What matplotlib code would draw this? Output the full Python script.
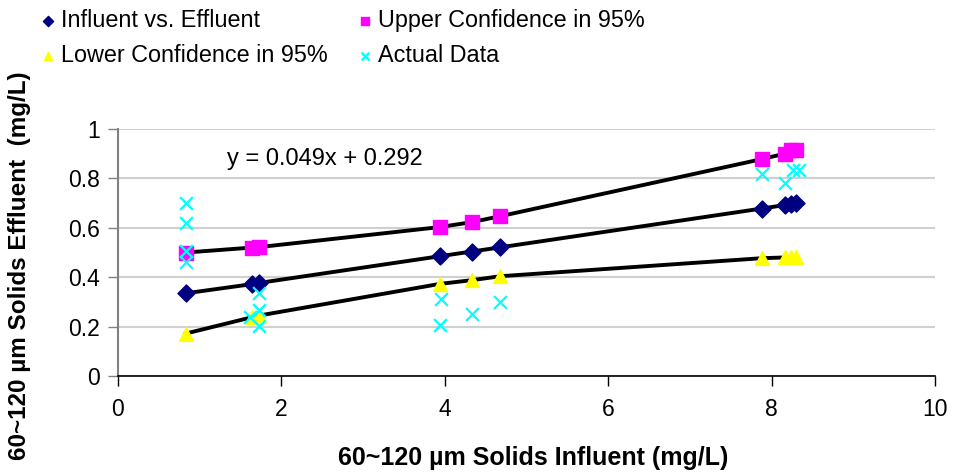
import matplotlib
matplotlib.use("Agg")
import matplotlib.pyplot as plt
import numpy as np

plt.rcParams['font.family'] = ['Liberation Sans', 'DejaVu Sans']

# Regression points (influent vs fitted effluent)
influent = [0.83, 1.64, 1.73, 3.94, 4.33, 4.68, 7.88, 8.16, 8.24, 8.30]
fitted = [0.335, 0.372, 0.377, 0.485, 0.504, 0.521, 0.678, 0.692, 0.696, 0.699]
upper = [0.500, 0.520, 0.522, 0.603, 0.623, 0.647, 0.878, 0.900, 0.913, 0.917]
lower = [0.172, 0.238, 0.245, 0.373, 0.388, 0.404, 0.477, 0.480, 0.480, 0.480]

# Actual measured data
actual_x = [0.83, 0.83, 0.83, 0.83, 1.62, 1.73, 1.73, 1.73,
            3.95, 3.94, 4.33, 4.68, 7.88, 8.16, 8.26, 8.33]
actual_y = [0.702, 0.621, 0.506, 0.463, 0.240, 0.337, 0.267, 0.202,
            0.313, 0.205, 0.251, 0.300, 0.817, 0.780, 0.834, 0.834]

equation = "y = 0.049x + 0.292"

fig = plt.figure(figsize=(9.56, 4.76), dpi=100)
ax = fig.add_axes([0.1234, 0.210, 0.8546, 0.519])

ax.set_xlim(0, 10)
ax.set_ylim(0, 1)
ax.set_xticks([0, 2, 4, 6, 8, 10])
ax.set_yticks([0, 0.2, 0.4, 0.6, 0.8, 1.0])
ax.set_yticklabels(['0', '0.2', '0.4', '0.6', '0.8', '1'])
ax.yaxis.grid(True, color='#d0d0d0', linewidth=1.5)
ax.set_axisbelow(True)

for s in ['top', 'right']:
    ax.spines[s].set_visible(False)
ax.spines['left'].set_color('#808080')
ax.spines['left'].set_linewidth(1.5)
ax.spines['bottom'].set_color('black')
ax.spines['bottom'].set_linewidth(1.2)
ax.tick_params(axis='y', direction='out', length=7, width=1, color='#808080',
               labelsize=16.5, pad=6)
ax.tick_params(axis='x', direction='out', length=7, width=1, color='black',
               labelsize=16.5, pad=9)

# Lines
ax.plot(influent, upper, color='black', linewidth=2.8, zorder=2)
ax.plot(influent, fitted, color='black', linewidth=2.8, zorder=2)
ax.plot(influent, lower, color='black', linewidth=2.8, zorder=2)

# Markers
h1 = ax.scatter(influent, fitted, marker='D', s=75, color='#000080', zorder=3,
                label='Influent vs. Effluent')
h2 = ax.scatter(influent, upper, marker='s', s=90, color='#ff00ff', zorder=3,
                label='Upper Confidence in 95%')
h3 = ax.scatter(influent, lower, marker='^', s=100, color='#ffff00', zorder=3,
                label='Lower Confidence in 95%')
h4 = ax.scatter(actual_x, actual_y, marker='x', s=85, color='#00ffff',
                linewidths=1.6, zorder=4, label='Actual Data')

ax.text(1.33, 0.88, equation, fontsize=17, va='center', ha='left')

ax.set_xlabel('60~120 µm Solids Influent (mg/L)', fontsize=18,
              fontweight='bold')
ax.set_ylabel('60~120 µm Solids Effluent  (mg/L)', fontsize=17.5,
              fontweight='bold')
ax.xaxis.set_label_coords(0.508, -0.332)
ax.xaxis.label.set_va('center')
ax.yaxis.set_label_coords(-0.12, 0.445)
ax.yaxis.label.set_va('center')

leg = fig.legend(handles=[h1, h3, h2, h4], ncol=2, loc='upper left',
                 bbox_to_anchor=(0.017, 1.025), frameon=False, fontsize=16.8,
                 markerscale=0.6, handletextpad=0.1, columnspacing=1.15,
                 labelspacing=0.5, handlelength=0.9)

fig.savefig('out.png', dpi=100)
